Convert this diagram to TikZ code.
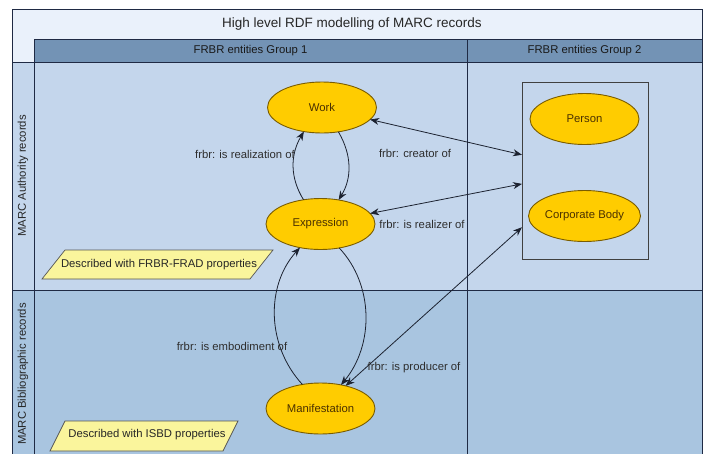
\documentclass[tikz,border=0pt]{standalone}
\usepackage{fontspec}
\setmainfont{Liberation Sans}
\usetikzlibrary{shapes.geometric,arrows.meta}
\definecolor{titlebg}{HTML}{EAF1FB}
\definecolor{headbg}{HTML}{7393B5}
\definecolor{lanea}{HTML}{C4D6EC}
\definecolor{laneb}{HTML}{A9C5E0}
\definecolor{gridline}{HTML}{1F2A44}
\definecolor{entfill}{HTML}{FFCC00}
\definecolor{entline}{HTML}{7A5C00}
\definecolor{enttext}{HTML}{4A3000}
\definecolor{notefill}{HTML}{FAF59C}
\definecolor{noteline}{HTML}{555555}
\definecolor{labeltext}{HTML}{2E2E2E}
\definecolor{edgecol}{HTML}{1C2230}

\begin{document}
\begin{tikzpicture}[x=1pt,y=-1pt,
  font=\fontsize{11.3}{13}\selectfont,
  entity/.style={ellipse, draw=entline, fill=entfill, line width=0.9pt,
    minimum width=109pt, minimum height=51pt, inner sep=0pt, outer sep=0pt,
    text=enttext},
  groupbox/.style={rectangle, draw=black!75, line width=0.9pt,
    minimum width=126pt, minimum height=177pt, inner sep=0pt, outer sep=0pt},
  lbl/.style={text=labeltext, inner sep=0pt},
  notetext/.style={text=black!85, inner sep=0pt},
  noteshape/.style={fill=notefill, draw=noteline, line width=0.7pt},
  rel/.style={draw=edgecol, line width=0.8pt, -{Stealth[length=9pt,width=7pt]}},
  biref/.style={draw=edgecol, line width=0.8pt,
    {Stealth[length=9pt,width=7pt]}-{Stealth[length=9pt,width=7pt]}},
  grid/.style={draw=gridline, line width=0.9pt}]

% page area
\path[use as bounding box] (0,0) rectangle (707,453);
\clip (0,0) rectangle (707,453);
\fill[white] (0,0) rectangle (707,453);

% swimlane backgrounds
\fill[titlebg] (12,9) rectangle (702,62);
\fill[headbg] (34,39) rectangle (702,62);
\fill[lanea] (12,62) rectangle (702,290);
\fill[laneb] (12,290) rectangle (702,470);

% swimlane grid
\draw[grid] (12,470) -- (12,9) -- (702,9) -- (702,470);
\draw[grid] (34,39) -- (702,39);
\draw[grid] (12,62) -- (702,62);
\draw[grid] (12,290) -- (702,290);
\draw[grid] (34,39) -- (34,470);
\draw[grid] (467,39) -- (467,470);

% headings
\node[text=black!85, inner sep=0pt, font=\fontsize{13.5}{15}\selectfont]
  (title) at (352,24) {High level RDF modelling of MARC records};
\node[text=black!90, inner sep=0pt] (hdr1) at (250.5,50.5) {FRBR entities Group 1};
\node[text=black!90, inner sep=0pt] (hdr2) at (584.5,50.5) {FRBR entities Group 2};
\node[text=black!85, inner sep=0pt, rotate=90] (lane1) at (23,176) {MARC Authority records};
\node[text=black!85, inner sep=0pt, rotate=90] (lane2) at (23,374) {MARC Bibliographic records};

% annotations
\filldraw[noteshape] (65,250) -- (273,250) -- (250,279) -- (42,279) -- cycle;
\node[notetext] (frad) at (159,264.5) {Described with FRBR-FRAD properties};
\filldraw[noteshape] (65,421) -- (238,421) -- (223,451) -- (50,451) -- cycle;
\node[notetext] (isbd) at (147,435) {Described with ISBD properties};

% group 1 entities
\node[entity] (work) at (322,107.5) {Work};
\node[entity] (expr) at (320.5,224) {Expression};
\node[entity] (manif) at (320.5,408.5) {Manifestation};

% group 2 entities
\node[groupbox] (grp) at (585,170.5) {};
\node[entity] (person) at (584.5,119) {Person};
\node[entity] (corp) at (584.5,216) {Corporate Body};

% relations inside group 1
\draw[rel] (work.-56) .. controls (352,155) and (352,178) .. (expr.53);
\draw[rel] (expr.125) .. controls (290,178) and (290,155) .. (work.233);
\draw[rel] (manif.127) .. controls (266,345) and (266,285) .. (expr.229);
\draw[rel] (expr.-52) .. controls (374,285) and (374,345) .. (manif.49);

% relations to group 2
\draw[biref] (work.-14) -- (grp.166);
\draw[biref] (expr.12.6) -- (grp.-168);
\draw[biref] (manif.42) -- (grp.222);

% relation labels
\node[lbl] (lrealization) at (245,154) {frbr: is realization of};
\node[lbl] (lcreator) at (415,153) {frbr: creator of};
\node[lbl] (lrealizer) at (422,224) {frbr: is realizer of};
\node[lbl] (lembodiment) at (232,346) {frbr: is embodiment of};
\node[lbl] (lproducer) at (414,368) {frbr: is producer of};
\end{tikzpicture}
\end{document}
